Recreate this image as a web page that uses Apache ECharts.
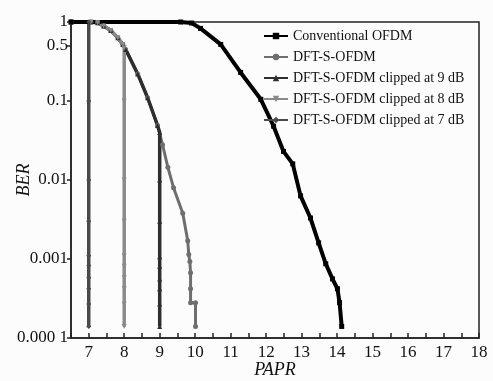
<!DOCTYPE html>
<html>
<head>
<meta charset="utf-8">
<script src="https://cdn.jsdelivr.net/npm/echarts@6/dist/echarts.min.js"></script>
<style>
  html, body { margin: 0; padding: 0; background: #fcfcfc; }
  #chart { width: 493px; height: 381px; }
</style>
</head>
<body>
<div id="chart"></div>
<script>
// values
const legendNames = ['Conventional OFDM', 'DFT-S-OFDM', 'DFT-S-OFDM clipped at 9 dB', 'DFT-S-OFDM clipped at 8 dB', 'DFT-S-OFDM clipped at 7 dB'];
const yTicks = [0.0001, 0.001, 0.01, 0.1, 0.5, 1];

const paprConv = [6.5, 9.59, 9.9, 10.15, 10.72, 11.28, 11.85, 12.21, 12.49, 12.75, 12.97, 13.25, 13.48, 13.68, 13.87, 14.01, 14.07, 14.13];
const berConv = [1, 1, 0.97, 0.83, 0.52, 0.23, 0.105, 0.048, 0.023, 0.016, 0.0063, 0.0033, 0.0016, 0.00087, 0.00056, 0.00042, 0.00028, 0.00014];

const paprDft = [6.5, 7.06, 7.25, 7.42, 7.62, 7.82, 7.96, 8.04, 8.38, 8.66, 8.94, 9.08, 9.23, 9.39, 9.65, 9.79, 9.82, 9.85, 9.87, 9.87, 9.87, 10.01, 10.01];
const berDft = [1, 1, 0.98, 0.89, 0.78, 0.63, 0.52, 0.45, 0.22, 0.11, 0.049, 0.028, 0.0145, 0.008, 0.0038, 0.0017, 0.00114, 0.00093, 0.00067, 0.00042, 0.00028, 0.00028, 0.00014];

const papr9 = [6.5, 7.06, 7.25, 7.42, 7.62, 7.82, 7.96, 8.04, 8.38, 8.66, 8.94, 9, 9, 9, 9, 9, 9, 9, 9, 9];
const ber9 = [1, 1, 0.98, 0.89, 0.78, 0.63, 0.52, 0.45, 0.22, 0.11, 0.049, 0.04, 0.01, 0.003, 0.00107, 0.00081, 0.00056, 0.00042, 0.00027, 0.00014];

const papr8 = [6.5, 7.06, 7.25, 7.42, 7.62, 7.82, 7.96, 8, 8, 8, 8, 8, 8, 8, 8, 8, 8];
const ber8 = [1, 1, 0.98, 0.89, 0.78, 0.63, 0.52, 0.47, 0.1, 0.01, 0.003, 0.0011, 0.00081, 0.00058, 0.00042, 0.00027, 0.00014];

const papr7 = [6.5, 7, 7, 7, 7, 7, 7, 7, 7, 7, 7];
const ber7 = [1, 1, 0.1, 0.01, 0.003, 0.0011, 0.00083, 0.00058, 0.00042, 0.00027, 0.00014];

const zip = (xs, ys) => xs.map((x, i) => [x, ys[i]]);

const serif = 'Liberation Serif';

const makeSeries = (name, xs, ys, color, symbol, lineWidth, symbolSize) => ({
  name: name,
  type: 'line',
  data: zip(xs, ys),
  symbol: symbol,
  symbolSize: symbolSize,
  showSymbol: true,
  color: color,
  lineStyle: { width: lineWidth, color: color },
  itemStyle: { color: color },
  emphasis: { disabled: true },
  animation: false,
});

let myChart = echarts.init(document.getElementById('chart'), null, { renderer: 'canvas' });

let option = {
  backgroundColor: '#fcfcfc',
  animation: false,
  grid: {
    left: 71, top: 22, right: 14, bottom: 43,
    outerBoundsMode: 'none', containLabel: false,
    show: true, borderColor: '#222', borderWidth: 1.5, backgroundColor: 'transparent',
  },
  legend: {
    data: legendNames,
    orient: 'vertical',
    left: 258, top: 24,
    itemWidth: 24, itemHeight: 8, itemGap: 7,
    textStyle: { fontFamily: serif, fontSize: 14, color: '#111' },
    inactiveColor: '#999',
  },
  xAxis: {
    type: 'value',
    min: 6.5, max: 18, interval: 0.5,
    name: 'PAPR', nameLocation: 'middle', nameGap: 23, nameMoveOverlap: false,
    nameTextStyle: { fontFamily: serif, fontSize: 18, fontStyle: 'italic', color: '#111' },
    axisLine: { lineStyle: { color: '#222', width: 1.5 } },
    axisTick: { inside: true, length: 5, lineStyle: { color: '#222', width: 1.5 } },
    axisLabel: {
      fontFamily: serif, fontSize: 17, color: '#111', margin: 6,
      formatter: (v) => (Math.abs(v - Math.round(v)) < 1e-6 && v >= 7 ? String(Math.round(v)) : ''),
    },
    splitLine: { show: false },
  },
  yAxis: {
    type: 'log', logBase: 10,
    min: 0.0001, max: 1,
    name: 'BER', nameLocation: 'middle', nameGap: 38, nameRotate: 90, nameMoveOverlap: false,
    nameTextStyle: { fontFamily: serif, fontSize: 18, fontStyle: 'italic', color: '#111' },
    axisLine: { show: true, lineStyle: { color: '#222', width: 1.5 } },
    axisTick: { show: true, length: 4, customValues: yTicks, lineStyle: { color: '#222', width: 1.5 } },
    axisLabel: {
      fontFamily: serif, fontSize: 17, color: '#111', margin: 3,
      customValues: yTicks,
      formatter: (v) => (Math.abs(v - 0.0001) < 1e-9 ? '0.000 1' : String(+v.toPrecision(3))),
    },
    splitLine: { show: false },
  },
  series: [
    makeSeries(legendNames[1], paprDft, berDft, '#6e6e6e', 'circle', 3, 5),
    makeSeries(legendNames[2], papr9, ber9, '#2e2e2e', 'triangle', 3.5, 5),
    makeSeries(legendNames[3], papr8, ber8, '#8a8a8a', 'triangle', 3.5, 5),
    makeSeries(legendNames[4], papr7, ber7, '#4a4a4a', 'diamond', 3.5, 5),
    makeSeries(legendNames[0], paprConv, berConv, '#000000', 'rect', 4, 5),
  ],
};

// the 8 dB markers point down
option.series[2].symbolRotate = 180;

myChart.setOption(option);
</script>
</body>
</html>
